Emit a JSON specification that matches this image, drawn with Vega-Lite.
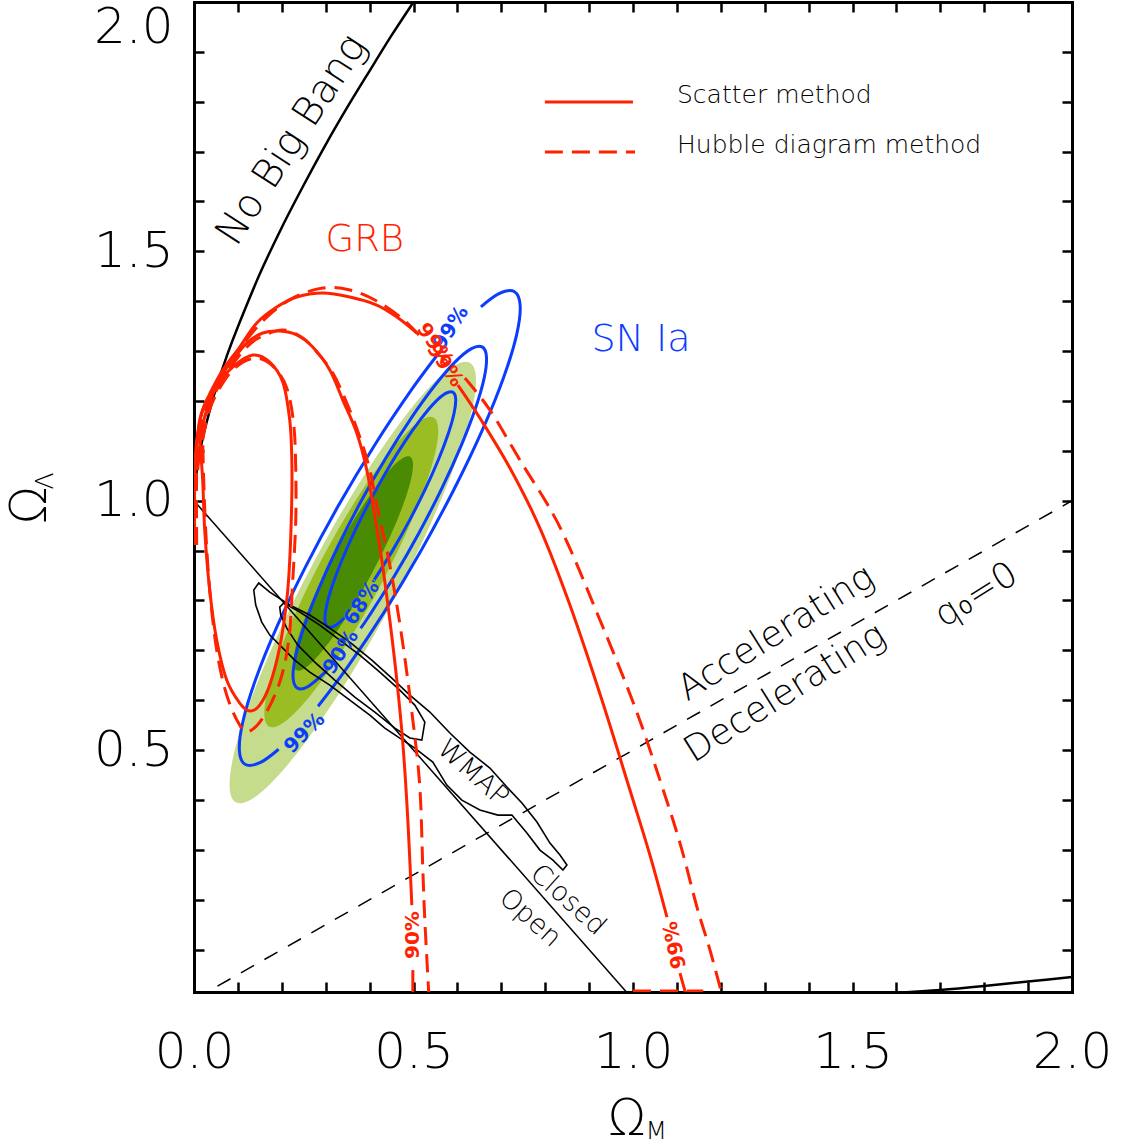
{
"$schema": "https://vega.github.io/schema/vega-lite/v6.json",
"width": 878, "height": 990,
"autosize": {"type": "none"},
"padding": {"left": 194, "top": 2, "right": 50, "bottom": 153},
"background": "white",
"config": {"view": {"stroke": null}, "font": "DejaVu Sans"},
"datasets": {
"curves": [
{"s":"g1","i":0,"x":0.6281,"y":1.2767},{"s":"g1","i":1,"x":0.6419,"y":1.2510},{"s":"g1","i":2,"x":0.6367,"y":1.1968},{"s":"g1","i":3,"x":0.6127,"y":1.1183},{"s":"g1","i":4,"x":0.5715,"y":1.0205},{"s":"g1","i":5,"x":0.5161,"y":0.9100},{"s":"g1","i":6,"x":0.4502,"y":0.7945},{"s":"g1","i":7,"x":0.3783,"y":0.6818},{"s":"g1","i":8,"x":0.3051,"y":0.5797},{"s":"g1","i":9,"x":0.2359,"y":0.4951},{"s":"g1","i":10,"x":0.1753,"y":0.4336},{"s":"g1","i":11,"x":0.1273,"y":0.3996},{"s":"g1","i":12,"x":0.0953,"y":0.3953},{"s":"g1","i":13,"x":0.0815,"y":0.4210},{"s":"g1","i":14,"x":0.0867,"y":0.4752},{"s":"g1","i":15,"x":0.1107,"y":0.5537},{"s":"g1","i":16,"x":0.1519,"y":0.6515},{"s":"g1","i":17,"x":0.2073,"y":0.7620},{"s":"g1","i":18,"x":0.2732,"y":0.8775},{"s":"g1","i":19,"x":0.3451,"y":0.9902},{"s":"g1","i":20,"x":0.4183,"y":1.0923},{"s":"g1","i":21,"x":0.4875,"y":1.1769},{"s":"g1","i":22,"x":0.5481,"y":1.2384},{"s":"g1","i":23,"x":0.5961,"y":1.2724},
{"s":"g2","i":0,"x":0.5456,"y":1.1668},{"s":"g2","i":1,"x":0.5559,"y":1.1484},{"s":"g2","i":2,"x":0.5528,"y":1.1102},{"s":"g2","i":3,"x":0.5363,"y":1.0548},{"s":"g2","i":4,"x":0.5079,"y":0.9858},{"s":"g2","i":5,"x":0.4691,"y":0.9081},{"s":"g2","i":6,"x":0.4228,"y":0.8269},{"s":"g2","i":7,"x":0.3721,"y":0.7477},{"s":"g2","i":8,"x":0.3205,"y":0.6760},{"s":"g2","i":9,"x":0.2715,"y":0.6166},{"s":"g2","i":10,"x":0.2284,"y":0.5736},{"s":"g2","i":11,"x":0.1941,"y":0.5500},{"s":"g2","i":12,"x":0.1710,"y":0.5472},{"s":"g2","i":13,"x":0.1607,"y":0.5656},{"s":"g2","i":14,"x":0.1638,"y":0.6038},{"s":"g2","i":15,"x":0.1803,"y":0.6592},{"s":"g2","i":16,"x":0.2087,"y":0.7282},{"s":"g2","i":17,"x":0.2475,"y":0.8059},{"s":"g2","i":18,"x":0.2938,"y":0.8871},{"s":"g2","i":19,"x":0.3445,"y":0.9663},{"s":"g2","i":20,"x":0.3961,"y":1.0380},{"s":"g2","i":21,"x":0.4451,"y":1.0974},{"s":"g2","i":22,"x":0.4882,"y":1.1404},{"s":"g2","i":23,"x":0.5225,"y":1.1640},
{"s":"g3","i":0,"x":0.4923,"y":1.0883},{"s":"g3","i":1,"x":0.4988,"y":1.0758},{"s":"g3","i":2,"x":0.4960,"y":1.0496},{"s":"g3","i":3,"x":0.4842,"y":1.0115},{"s":"g3","i":4,"x":0.4641,"y":0.9640},{"s":"g3","i":5,"x":0.4371,"y":0.9103},{"s":"g3","i":6,"x":0.4050,"y":0.8542},{"s":"g3","i":7,"x":0.3701,"y":0.7995},{"s":"g3","i":8,"x":0.3345,"y":0.7498},{"s":"g3","i":9,"x":0.3010,"y":0.7085},{"s":"g3","i":10,"x":0.2718,"y":0.6786},{"s":"g3","i":11,"x":0.2486,"y":0.6620},{"s":"g3","i":12,"x":0.2333,"y":0.6599},{"s":"g3","i":13,"x":0.2268,"y":0.6724},{"s":"g3","i":14,"x":0.2296,"y":0.6986},{"s":"g3","i":15,"x":0.2414,"y":0.7367},{"s":"g3","i":16,"x":0.2615,"y":0.7842},{"s":"g3","i":17,"x":0.2885,"y":0.8379},{"s":"g3","i":18,"x":0.3206,"y":0.8940},{"s":"g3","i":19,"x":0.3555,"y":0.9487},{"s":"g3","i":20,"x":0.3911,"y":0.9984},{"s":"g3","i":21,"x":0.4246,"y":1.0397},{"s":"g3","i":22,"x":0.4538,"y":1.0696},{"s":"g3","i":23,"x":0.4770,"y":1.0862},
{"s":"b99a","i":0,"x":0.1928,"y":0.5017},{"s":"b99a","i":1,"x":0.1516,"y":0.4753},{"s":"b99a","i":2,"x":0.1171,"y":0.4711},{"s":"b99a","i":3,"x":0.1034,"y":0.4993},{"s":"b99a","i":4,"x":0.1115,"y":0.5579},{"s":"b99a","i":5,"x":0.1409,"y":0.6429},{"s":"b99a","i":6,"x":0.1894,"y":0.7485},{"s":"b99a","i":7,"x":0.2540,"y":0.8675},{"s":"b99a","i":8,"x":0.3300,"y":0.9918},{"s":"b99a","i":9,"x":0.4124,"y":1.1129},{"s":"b99a","i":10,"x":0.4956,"y":1.2227},{"s":"b99a","i":11,"x":0.5587,"y":1.2972},
{"s":"b99b","i":0,"x":0.6536,"y":1.3889},{"s":"b99b","i":1,"x":0.6948,"y":1.4153},{"s":"b99b","i":2,"x":0.7293,"y":1.4195},{"s":"b99b","i":3,"x":0.7430,"y":1.3913},{"s":"b99b","i":4,"x":0.7349,"y":1.3327},{"s":"b99b","i":5,"x":0.7055,"y":1.2477},{"s":"b99b","i":6,"x":0.6570,"y":1.1421},{"s":"b99b","i":7,"x":0.5924,"y":1.0231},{"s":"b99b","i":8,"x":0.5164,"y":0.8988},{"s":"b99b","i":9,"x":0.4340,"y":0.7777},{"s":"b99b","i":10,"x":0.3508,"y":0.6679},{"s":"b99b","i":11,"x":0.2826,"y":0.5879},
{"s":"b90","i":0,"x":0.3027,"y":0.6595},{"s":"b90","i":1,"x":0.2600,"y":0.6277},{"s":"b90","i":2,"x":0.2357,"y":0.6242},{"s":"b90","i":3,"x":0.2258,"y":0.6441},{"s":"b90","i":4,"x":0.2308,"y":0.6858},{"s":"b90","i":5,"x":0.2506,"y":0.7467},{"s":"b90","i":6,"x":0.2836,"y":0.8225},{"s":"b90","i":7,"x":0.3278,"y":0.9082},{"s":"b90","i":8,"x":0.3799,"y":0.9978},{"s":"b90","i":9,"x":0.4366,"y":1.0852},{"s":"b90","i":10,"x":0.4940,"y":1.1647},{"s":"b90","i":11,"x":0.5480,"y":1.2305},{"s":"b90","i":12,"x":0.5950,"y":1.2784},{"s":"b90","i":13,"x":0.6320,"y":1.3049},{"s":"b90","i":14,"x":0.6563,"y":1.3084},{"s":"b90","i":15,"x":0.6662,"y":1.2885},{"s":"b90","i":16,"x":0.6612,"y":1.2468},{"s":"b90","i":17,"x":0.6414,"y":1.1859},{"s":"b90","i":18,"x":0.6084,"y":1.1101},{"s":"b90","i":19,"x":0.5642,"y":1.0244},{"s":"b90","i":20,"x":0.5121,"y":0.9348},{"s":"b90","i":21,"x":0.4554,"y":0.8474},{"s":"b90","i":22,"x":0.3980,"y":0.7679},{"s":"b90","i":23,"x":0.3795,"y":0.7443},
{"s":"b68","i":0,"x":0.3424,"y":0.7649},{"s":"b68","i":1,"x":0.3213,"y":0.7496},{"s":"b68","i":2,"x":0.3050,"y":0.7470},{"s":"b68","i":3,"x":0.2983,"y":0.7604},{"s":"b68","i":4,"x":0.3019,"y":0.7889},{"s":"b68","i":5,"x":0.3153,"y":0.8305},{"s":"b68","i":6,"x":0.3377,"y":0.8826},{"s":"b68","i":7,"x":0.3676,"y":0.9415},{"s":"b68","i":8,"x":0.4029,"y":1.0031},{"s":"b68","i":9,"x":0.4412,"y":1.0633},{"s":"b68","i":10,"x":0.4799,"y":1.1180},{"s":"b68","i":11,"x":0.5165,"y":1.1635},{"s":"b68","i":12,"x":0.5481,"y":1.1967},{"s":"b68","i":13,"x":0.5731,"y":1.2152},{"s":"b68","i":14,"x":0.5894,"y":1.2178},{"s":"b68","i":15,"x":0.5961,"y":1.2044},{"s":"b68","i":16,"x":0.5925,"y":1.1759},{"s":"b68","i":17,"x":0.5791,"y":1.1343},{"s":"b68","i":18,"x":0.5567,"y":1.0822},{"s":"b68","i":19,"x":0.5268,"y":1.0233},{"s":"b68","i":20,"x":0.4915,"y":0.9617},{"s":"b68","i":21,"x":0.4532,"y":0.9015},{"s":"b68","i":22,"x":0.4145,"y":0.8468},{"s":"b68","i":23,"x":0.4094,"y":0.8401},
{"s":"wo","i":0,"x":0.1361,"y":0.8209},{"s":"wo","i":1,"x":0.1475,"y":0.8350},{"s":"wo","i":2,"x":0.1726,"y":0.8169},{"s":"wo","i":3,"x":0.2181,"y":0.7909},{"s":"wo","i":4,"x":0.2637,"y":0.7708},{"s":"wo","i":5,"x":0.3093,"y":0.7447},{"s":"wo","i":6,"x":0.3549,"y":0.7166},{"s":"wo","i":7,"x":0.4050,"y":0.6806},{"s":"wo","i":8,"x":0.4506,"y":0.6445},{"s":"wo","i":9,"x":0.4917,"y":0.6104},{"s":"wo","i":10,"x":0.5373,"y":0.5763},{"s":"wo","i":11,"x":0.5829,"y":0.5342},{"s":"wo","i":12,"x":0.6284,"y":0.4961},{"s":"wo","i":13,"x":0.6740,"y":0.4640},{"s":"wo","i":14,"x":0.7128,"y":0.4259},{"s":"wo","i":15,"x":0.7470,"y":0.3938},{"s":"wo","i":16,"x":0.7812,"y":0.3557},{"s":"wo","i":17,"x":0.8108,"y":0.3136},{"s":"wo","i":18,"x":0.8336,"y":0.2895},{"s":"wo","i":19,"x":0.8495,"y":0.2695},{"s":"wo","i":20,"x":0.8404,"y":0.2595},{"s":"wo","i":21,"x":0.8176,"y":0.2795},{"s":"wo","i":22,"x":0.7880,"y":0.2996},{"s":"wo","i":23,"x":0.7583,"y":0.3337},{"s":"wo","i":24,"x":0.7241,"y":0.3697},{"s":"wo","i":25,"x":0.6922,"y":0.3697},{"s":"wo","i":26,"x":0.6512,"y":0.3798},{"s":"wo","i":27,"x":0.6101,"y":0.3998},{"s":"wo","i":28,"x":0.5759,"y":0.4299},{"s":"wo","i":29,"x":0.5440,"y":0.4760},{"s":"wo","i":30,"x":0.5030,"y":0.5041},{"s":"wo","i":31,"x":0.4688,"y":0.5242},{"s":"wo","i":32,"x":0.4347,"y":0.5442},{"s":"wo","i":33,"x":0.4005,"y":0.5703},{"s":"wo","i":34,"x":0.3549,"y":0.6003},{"s":"wo","i":35,"x":0.3093,"y":0.6304},{"s":"wo","i":36,"x":0.2637,"y":0.6565},{"s":"wo","i":37,"x":0.2295,"y":0.6806},{"s":"wo","i":38,"x":0.2022,"y":0.7046},{"s":"wo","i":39,"x":0.1726,"y":0.7307},{"s":"wo","i":40,"x":0.1543,"y":0.7567},{"s":"wo","i":41,"x":0.1406,"y":0.7909},
{"s":"wi","i":0,"x":0.1953,"y":0.7868},{"s":"wi","i":1,"x":0.2044,"y":0.7949},{"s":"wi","i":2,"x":0.2409,"y":0.7768},{"s":"wi","i":3,"x":0.2865,"y":0.7507},{"s":"wi","i":4,"x":0.3321,"y":0.7207},{"s":"wi","i":5,"x":0.3777,"y":0.6906},{"s":"wi","i":6,"x":0.4233,"y":0.6565},{"s":"wi","i":7,"x":0.4688,"y":0.6204},{"s":"wi","i":8,"x":0.5030,"y":0.5903},{"s":"wi","i":9,"x":0.5258,"y":0.5562},{"s":"wi","i":10,"x":0.5190,"y":0.5201},{"s":"wi","i":11,"x":0.4917,"y":0.5242},{"s":"wi","i":12,"x":0.4575,"y":0.5442},{"s":"wi","i":13,"x":0.4119,"y":0.5763},{"s":"wi","i":14,"x":0.3663,"y":0.6064},{"s":"wi","i":15,"x":0.3207,"y":0.6405},{"s":"wi","i":16,"x":0.2751,"y":0.6765},{"s":"wi","i":17,"x":0.2364,"y":0.7106},{"s":"wi","i":18,"x":0.2113,"y":0.7447},{"s":"wi","i":19,"x":0.1976,"y":0.7708},
{"s":"flat","i":0,"x":0,"y":1},{"s":"flat","i":1,"x":1,"y":0},
{"s":"q0","i":0,"x":0,"y":0},{"s":"q0","i":1,"x":2,"y":1},
{"s":"nbb1","i":0,"x":0,"y":1.0},{"s":"nbb1","i":1,"x":0.002,"y":1.028},{"s":"nbb1","i":2,"x":0.005,"y":1.051},{"s":"nbb1","i":3,"x":0.01,"y":1.080},{"s":"nbb1","i":4,"x":0.02,"y":1.126},{"s":"nbb1","i":5,"x":0.035,"y":1.178},{"s":"nbb1","i":6,"x":0.05,"y":1.225},{"s":"nbb1","i":7,"x":0.075,"y":1.291},{"s":"nbb1","i":8,"x":0.1,"y":1.349},{"s":"nbb1","i":9,"x":0.15,"y":1.455},{"s":"nbb1","i":10,"x":0.2,"y":1.548},{"s":"nbb1","i":11,"x":0.25,"y":1.633},{"s":"nbb1","i":12,"x":0.3,"y":1.714},{"s":"nbb1","i":13,"x":0.35,"y":1.790},{"s":"nbb1","i":14,"x":0.4,"y":1.862},{"s":"nbb1","i":15,"x":0.45,"y":1.933},{"s":"nbb1","i":16,"x":0.5,"y":2.0},{"s":"nbb1","i":17,"x":0.51,"y":2.013},
{"s":"nbb2","i":0,"x":1.6,"y":0.013},{"s":"nbb2","i":1,"x":1.7,"y":0.019},{"s":"nbb2","i":2,"x":1.8,"y":0.027},{"s":"nbb2","i":3,"x":1.9,"y":0.036},{"s":"nbb2","i":4,"x":2.0,"y":0.045},
{"s":"r99s1","i":0,"x":0.0016,"y":0.9112},{"s":"r99s1","i":1,"x":0.0016,"y":1.0415},{"s":"r99s1","i":2,"x":0.0061,"y":1.1217},{"s":"r99s1","i":3,"x":0.0198,"y":1.1819},{"s":"r99s1","i":4,"x":0.0403,"y":1.2220},{"s":"r99s1","i":5,"x":0.0654,"y":1.2621},{"s":"r99s1","i":6,"x":0.1042,"y":1.3082},{"s":"r99s1","i":7,"x":0.1429,"y":1.3563},{"s":"r99s1","i":8,"x":0.1885,"y":1.3884},{"s":"r99s1","i":9,"x":0.2341,"y":1.4085},{"s":"r99s1","i":10,"x":0.2933,"y":1.4165},{"s":"r99s1","i":11,"x":0.3549,"y":1.4085},{"s":"r99s1","i":12,"x":0.4164,"y":1.3924},{"s":"r99s1","i":13,"x":0.4620,"y":1.3683},{"s":"r99s1","i":14,"x":0.5076,"y":1.3363},
{"s":"r99s2","i":0,"x":0.6011,"y":1.2320},{"s":"r99s2","i":1,"x":0.6512,"y":1.1658},{"s":"r99s2","i":2,"x":0.7196,"y":1.0656},{"s":"r99s2","i":3,"x":0.7879,"y":0.9452},{"s":"r99s2","i":4,"x":0.8563,"y":0.7908},{"s":"r99s2","i":5,"x":0.9292,"y":0.6004},{"s":"r99s2","i":6,"x":0.9930,"y":0.4199},{"s":"r99s2","i":7,"x":1.0386,"y":0.2895},{"s":"r99s2","i":8,"x":1.0773,"y":0.1652},
{"s":"r99s3","i":0,"x":1.1070,"y":0.0529},{"s":"r99s3","i":1,"x":1.1206,"y":0.010},
{"s":"r90s1","i":0,"x":0.0039,"y":1.0615},{"s":"r90s1","i":1,"x":0.0130,"y":1.1618},{"s":"r90s1","i":2,"x":0.0358,"y":1.2119},{"s":"r90s1","i":3,"x":0.0631,"y":1.2520},{"s":"r90s1","i":4,"x":0.0882,"y":1.2821},{"s":"r90s1","i":5,"x":0.1201,"y":1.3162},{"s":"r90s1","i":6,"x":0.1566,"y":1.3363},{"s":"r90s1","i":7,"x":0.1953,"y":1.3403},{"s":"r90s1","i":8,"x":0.2341,"y":1.3323},{"s":"r90s1","i":9,"x":0.2705,"y":1.3082},{"s":"r90s1","i":10,"x":0.3093,"y":1.2621},{"s":"r90s1","i":11,"x":0.3389,"y":1.2019},{"s":"r90s1","i":12,"x":0.3708,"y":1.1357},{"s":"r90s1","i":13,"x":0.3936,"y":1.0615},{"s":"r90s1","i":14,"x":0.4096,"y":0.9813},{"s":"r90s1","i":15,"x":0.4278,"y":0.8811},{"s":"r90s1","i":16,"x":0.4460,"y":0.7608},{"s":"r90s1","i":17,"x":0.4620,"y":0.6405},{"s":"r90s1","i":18,"x":0.4757,"y":0.5141},{"s":"r90s1","i":19,"x":0.4871,"y":0.3597},{"s":"r90s1","i":20,"x":0.4962,"y":0.1893},
{"s":"r90s2","i":0,"x":0.4985,"y":0.0589},{"s":"r90s2","i":1,"x":0.4985,"y":0.010},
{"s":"rins","i":0,"x":0.0130,"y":1.1217},{"s":"rins","i":1,"x":0.0289,"y":1.1819},{"s":"rins","i":2,"x":0.0540,"y":1.2320},{"s":"rins","i":3,"x":0.0882,"y":1.2681},{"s":"rins","i":4,"x":0.1338,"y":1.2921},{"s":"rins","i":5,"x":0.1725,"y":1.2781},{"s":"rins","i":6,"x":0.2022,"y":1.2380},{"s":"rins","i":7,"x":0.2181,"y":1.1618},{"s":"rins","i":8,"x":0.2227,"y":1.0876},{"s":"rins","i":9,"x":0.2227,"y":1.0014},{"s":"rins","i":10,"x":0.2181,"y":0.8811},{"s":"rins","i":11,"x":0.2113,"y":0.8009},{"s":"rins","i":12,"x":0.1953,"y":0.7066},{"s":"rins","i":13,"x":0.1725,"y":0.6304},{"s":"rins","i":14,"x":0.1497,"y":0.5903},{"s":"rins","i":15,"x":0.1270,"y":0.5783},{"s":"rins","i":16,"x":0.1042,"y":0.5943},{"s":"rins","i":17,"x":0.0745,"y":0.6405},{"s":"rins","i":18,"x":0.0517,"y":0.7207},{"s":"rins","i":19,"x":0.0358,"y":0.8209},{"s":"rins","i":20,"x":0.0244,"y":0.9412},{"s":"rins","i":21,"x":0.0198,"y":1.0415},{"s":"rins","i":22,"x":0.0130,"y":1.1217},
{"s":"legs","i":0,"x":0.7993,"y":1.7995},{"s":"legs","i":1,"x":0.9999,"y":1.7995},
{"s":"r99d1","i":0,"x":0.0061,"y":0.9112},{"s":"r99d1","i":1,"x":0.0061,"y":1.0615},{"s":"r99d1","i":2,"x":0.0130,"y":1.1418},{"s":"r99d1","i":3,"x":0.0289,"y":1.1919},{"s":"r99d1","i":4,"x":0.0517,"y":1.2320},{"s":"r99d1","i":5,"x":0.0813,"y":1.2721},{"s":"r99d1","i":6,"x":0.1156,"y":1.3182},{"s":"r99d1","i":7,"x":0.1657,"y":1.3683},{"s":"r99d1","i":8,"x":0.2250,"y":1.4064},{"s":"r99d1","i":9,"x":0.2933,"y":1.4265},{"s":"r99d1","i":10,"x":0.3549,"y":1.4225},{"s":"r99d1","i":11,"x":0.4164,"y":1.4004},{"s":"r99d1","i":12,"x":0.4757,"y":1.3643},{"s":"r99d1","i":13,"x":0.5144,"y":1.3302},
{"s":"r99d2","i":0,"x":0.6170,"y":1.2460},{"s":"r99d2","i":1,"x":0.6740,"y":1.1819},{"s":"r99d2","i":2,"x":0.7423,"y":1.0816},{"s":"r99d2","i":3,"x":0.8335,"y":0.9472},{"s":"r99d2","i":4,"x":0.9247,"y":0.7608},{"s":"r99d2","i":5,"x":1.0044,"y":0.5863},{"s":"r99d2","i":6,"x":1.0614,"y":0.4399},{"s":"r99d2","i":7,"x":1.1070,"y":0.3136},{"s":"r99d2","i":8,"x":1.1457,"y":0.1853},{"s":"r99d2","i":9,"x":1.1754,"y":0.0991},{"s":"r99d2","i":10,"x":1.2027,"y":0.010},
{"s":"r90d","i":0,"x":0.0084,"y":1.0615},{"s":"r90d","i":1,"x":0.0198,"y":1.1518},{"s":"r90d","i":2,"x":0.0426,"y":1.2059},{"s":"r90d","i":3,"x":0.0700,"y":1.2500},{"s":"r90d","i":4,"x":0.1042,"y":1.2921},{"s":"r90d","i":5,"x":0.1429,"y":1.3242},{"s":"r90d","i":6,"x":0.2022,"y":1.3423},{"s":"r90d","i":7,"x":0.2478,"y":1.3262},{"s":"r90d","i":8,"x":0.2797,"y":1.2982},{"s":"r90d","i":9,"x":0.3162,"y":1.2560},{"s":"r90d","i":10,"x":0.3481,"y":1.1959},{"s":"r90d","i":11,"x":0.3777,"y":1.1277},{"s":"r90d","i":12,"x":0.4005,"y":1.0615},{"s":"r90d","i":13,"x":0.4187,"y":0.9813},{"s":"r90d","i":14,"x":0.4460,"y":0.8711},{"s":"r90d","i":15,"x":0.4734,"y":0.7267},{"s":"r90d","i":16,"x":0.4985,"y":0.5602},{"s":"r90d","i":17,"x":0.5144,"y":0.4259},{"s":"r90d","i":18,"x":0.5213,"y":0.2595},{"s":"r90d","i":19,"x":0.5258,"y":0.1592},{"s":"r90d","i":20,"x":0.5349,"y":0.010},
{"s":"rind","i":0,"x":0.0198,"y":1.1217},{"s":"rind","i":1,"x":0.0335,"y":1.1779},{"s":"rind","i":2,"x":0.0586,"y":1.2260},{"s":"rind","i":3,"x":0.0928,"y":1.2661},{"s":"rind","i":4,"x":0.1384,"y":1.2861},{"s":"rind","i":5,"x":0.1794,"y":1.2701},{"s":"rind","i":6,"x":0.2113,"y":1.2260},{"s":"rind","i":7,"x":0.2273,"y":1.1518},{"s":"rind","i":8,"x":0.2318,"y":1.0615},{"s":"rind","i":9,"x":0.2318,"y":0.9613},{"s":"rind","i":10,"x":0.2250,"y":0.8410},{"s":"rind","i":11,"x":0.2159,"y":0.7207},{"s":"rind","i":12,"x":0.1953,"y":0.6364},{"s":"rind","i":13,"x":0.1611,"y":0.5703},{"s":"rind","i":14,"x":0.1270,"y":0.5382},{"s":"rind","i":15,"x":0.1042,"y":0.5502},{"s":"rind","i":16,"x":0.0745,"y":0.6104},{"s":"rind","i":17,"x":0.0517,"y":0.7006},{"s":"rind","i":18,"x":0.0358,"y":0.8209},{"s":"rind","i":19,"x":0.0266,"y":0.9412},{"s":"rind","i":20,"x":0.0221,"y":1.0415},{"s":"rind","i":21,"x":0.0198,"y":1.1217},
{"s":"rbotd","i":0,"x":1.0,"y":0.017},{"s":"rbotd","i":1,"x":1.16,"y":0.017},
{"s":"legd","i":0,"x":0.7993,"y":1.6992},{"s":"legd","i":1,"x":1.0045,"y":1.6992}
],
"notes": [
{"id":"nbb","t":"No Big Bang","x":0.2227,"y":1.7233},
{"id":"grb","t":"GRB","x":0.3890,"y":1.5227},
{"id":"sn","t":"SN Ia","x":1.0181,"y":1.3222},
{"id":"acc","t":"Accelerating","x":1.3258,"y":0.7347},
{"id":"dec","t":"Decelerating","x":1.3463,"y":0.6144},
{"id":"q0","t":"q₀=0","x":1.7816,"y":0.8109},
{"id":"wmap","t":"WMAP","x":0.6352,"y":0.4540},
{"id":"closed","t":"Closed","x":0.8517,"y":0.1993},
{"id":"open","t":"Open","x":0.7652,"y":0.1632},
{"id":"leg1","t":"Scatter method","x":1.1002,"y":1.8135},
{"id":"leg2","t":"Hubble diagram method","x":1.1002,"y":1.7132},
{"id":"b68","t":"68%","x":0.3825,"y":0.7949},
{"id":"b90","t":"90%","x":0.3347,"y":0.6966},
{"id":"b99l","t":"99%","x":0.2522,"y":0.5342},
{"id":"b99u","t":"99%","x":0.5851,"y":1.3463},
{"id":"r99a","t":"99%","x":0.5486,"y":1.3122},
{"id":"r99b","t":"99%","x":0.5714,"y":1.2721},
{"id":"r90bot","t":"90%","x":0.4985,"y":0.1291},
{"id":"r99bot","t":"99%","x":1.0963,"y":0.1091},
{"id":"xt","t":"Ω","x":0.9862,"y":-0.2398},
{"id":"xs","t":"M","x":1.0530,"y":-0.2639},
{"id":"yt","t":"Ω","x":-0.3745,"y":0.9914},
{"id":"ys","t":"Λ","x":-0.3403,"y":1.0395}
]
},
"encoding": {
"x": {"field": "x", "type": "quantitative", "scale": {"domain": [0, 2], "nice": false, "zero": false}, "axis": null},
"y": {"field": "y", "type": "quantitative", "scale": {"domain": [0.015, 2], "nice": false, "zero": false}, "axis": null}
},
"layer": [
{"data": {"name": "curves"}, "transform": [{"filter": {"field": "s", "equal": "g1"}}],
 "mark": {"type": "line", "interpolate": "cardinal-closed", "fill": "#c5dc8d", "strokeWidth": 0, "clip": true},
 "encoding": {
  "order": {"field": "i", "type": "quantitative"},
  "x": {"field": "x", "type": "quantitative", "scale": {"domain": [0, 2], "nice": false, "zero": false},
   "axis": {"orient": "bottom", "values": [0,0.1,0.2,0.3,0.4,0.5,0.6,0.7,0.8,0.9,1,1.1,1.2,1.3,1.4,1.5,1.6,1.7,1.8,1.9,2], "title": null, "grid": false,
    "domainColor": "black", "domainWidth": 3, "domainCap": "square", "ticks": true, "tickColor": "black", "tickWidth": 2.5, "tickSize": -10,
    "labelFont": "DejaVu Sans", "labelFontSize": 50, "labelFontWeight": 300, "labelColor": "black", "labelPadding": 45, "labelOverlap": false, "labelFlush": false,
    "labelExpr": "abs(datum.value*2-round(datum.value*2))<0.001 ? format(datum.value,'.1f') : ''",
    "encode": {"ticks": {"update": {"y2": {"signal": "abs(datum.value*2-round(datum.value*2))<0.001 ? -20 : -10"}}}}}},
  "y": {"field": "y", "type": "quantitative", "scale": {"domain": [0.015, 2], "nice": false, "zero": false},
   "axis": {"orient": "left", "values": [0.1,0.2,0.3,0.4,0.5,0.6,0.7,0.8,0.9,1,1.1,1.2,1.3,1.4,1.5,1.6,1.7,1.8,1.9,2], "title": null, "grid": false,
    "domainColor": "black", "domainWidth": 3, "domainCap": "square", "ticks": true, "tickColor": "black", "tickWidth": 2.5, "tickSize": -10,
    "labelFont": "DejaVu Sans", "labelFontSize": 50, "labelFontWeight": 300, "labelColor": "black", "labelPadding": 31, "labelOverlap": false, "labelFlush": true,
    "labelExpr": "abs(datum.value*2-round(datum.value*2))<0.001 ? format(datum.value,'.1f') : ''",
    "encode": {"ticks": {"update": {"x2": {"signal": "abs(datum.value*2-round(datum.value*2))<0.001 ? 20 : 10"}}}}}}
 }},
{"data": {"name": "curves"}, "transform": [{"filter": {"field": "s", "equal": "g2"}}],
 "mark": {"type": "line", "interpolate": "cardinal-closed", "fill": "#99bd22", "strokeWidth": 0, "clip": true},
 "encoding": {
  "order": {"field": "i", "type": "quantitative"},
  "x": {"field": "x", "type": "quantitative", "scale": {"domain": [0, 2], "nice": false, "zero": false},
   "axis": {"orient": "top", "values": [0,0.1,0.2,0.3,0.4,0.5,0.6,0.7,0.8,0.9,1,1.1,1.2,1.3,1.4,1.5,1.6,1.7,1.8,1.9,2], "title": null, "grid": false, "labels": false,
    "domainColor": "black", "domainWidth": 3, "domainCap": "square", "ticks": true, "tickColor": "black", "tickWidth": 2.5, "tickSize": -10,
    "encode": {"ticks": {"update": {"y2": {"signal": "abs(datum.value*2-round(datum.value*2))<0.001 ? 20 : 10"}}}}}},
  "y": {"field": "y", "type": "quantitative", "scale": {"domain": [0.015, 2], "nice": false, "zero": false},
   "axis": {"orient": "right", "values": [0.1,0.2,0.3,0.4,0.5,0.6,0.7,0.8,0.9,1,1.1,1.2,1.3,1.4,1.5,1.6,1.7,1.8,1.9,2], "title": null, "grid": false, "labels": false,
    "domainColor": "black", "domainWidth": 3, "domainCap": "square", "ticks": true, "tickColor": "black", "tickWidth": 2.5, "tickSize": -10,
    "encode": {"ticks": {"update": {"x2": {"signal": "abs(datum.value*2-round(datum.value*2))<0.001 ? -20 : -10"}}}}}}
 }},
{"data": {"name": "curves"}, "transform": [{"filter": {"field": "s", "equal": "g3"}}],
 "mark": {"type": "line", "interpolate": "cardinal-closed", "fill": "#4a8b04", "strokeWidth": 0, "clip": true},
 "encoding": {"order": {"field": "i", "type": "quantitative"}}},
{"data": {"name": "curves"}, "transform": [{"filter": {"field": "s", "oneOf": ["b99a", "b99b", "b90", "b68"]}}],
 "mark": {"type": "line", "interpolate": "cardinal", "stroke": "#0b3dff", "strokeWidth": 3, "clip": true},
 "encoding": {"order": {"field": "i", "type": "quantitative"}, "detail": {"field": "s"}}},
{"data": {"name": "curves"}, "transform": [{"filter": {"field": "s", "oneOf": ["wo", "wi"]}}],
 "mark": {"type": "line", "interpolate": "linear-closed", "stroke": "black", "strokeWidth": 1.6, "clip": true},
 "encoding": {"order": {"field": "i", "type": "quantitative"}, "detail": {"field": "s"}}},
{"data": {"name": "curves"}, "transform": [{"filter": {"field": "s", "oneOf": ["flat"]}}],
 "mark": {"type": "line", "stroke": "black", "strokeWidth": 1.5, "clip": true},
 "encoding": {"order": {"field": "i", "type": "quantitative"}, "detail": {"field": "s"}}},
{"data": {"name": "curves"}, "transform": [{"filter": {"field": "s", "oneOf": ["nbb1", "nbb2"]}}],
 "mark": {"type": "line", "interpolate": "cardinal", "stroke": "black", "strokeWidth": 2.5, "clip": true},
 "encoding": {"order": {"field": "i", "type": "quantitative"}, "detail": {"field": "s"}}},
{"data": {"name": "curves"}, "transform": [{"filter": {"field": "s", "equal": "q0"}}],
 "mark": {"type": "line", "stroke": "black", "strokeWidth": 1.5, "strokeDash": [15, 12], "clip": true},
 "encoding": {"order": {"field": "i", "type": "quantitative"}}},
{"data": {"name": "curves"}, "transform": [{"filter": {"field": "s", "oneOf": ["r99s1", "r99s2", "r99s3", "r90s1", "r90s2", "rins", "legs"]}}],
 "mark": {"type": "line", "interpolate": "cardinal", "stroke": "#ff2200", "strokeWidth": 3, "clip": true},
 "encoding": {"order": {"field": "i", "type": "quantitative"}, "detail": {"field": "s"}}},
{"data": {"name": "curves"}, "transform": [{"filter": {"field": "s", "oneOf": ["r99d1", "r99d2", "r90d", "rind", "rbotd", "legd"]}}],
 "mark": {"type": "line", "interpolate": "cardinal", "stroke": "#ff2200", "strokeWidth": 3, "strokeDash": [18, 9], "clip": true},
 "encoding": {"order": {"field": "i", "type": "quantitative"}, "detail": {"field": "s"}}},
{"data": {"name": "notes"}, "transform": [{"filter": {"field": "id", "equal": "nbb"}}],
 "mark": {"type": "text", "font": "DejaVu Sans", "fontSize": 40, "fontWeight": 300, "angle": -57, "color": "black", "align": "center", "baseline": "middle"},
 "encoding": {"text": {"field": "t"}}},
{"data": {"name": "notes"}, "transform": [{"filter": {"field": "id", "equal": "grb"}}],
 "mark": {"type": "text", "font": "DejaVu Sans", "fontSize": 37, "fontWeight": 300, "color": "#ff2200", "align": "center", "baseline": "middle"},
 "encoding": {"text": {"field": "t"}}},
{"data": {"name": "notes"}, "transform": [{"filter": {"field": "id", "equal": "sn"}}],
 "mark": {"type": "text", "font": "DejaVu Sans", "fontSize": 38, "fontWeight": 300, "color": "#0b3dff", "align": "center", "baseline": "middle"},
 "encoding": {"text": {"field": "t"}}},
{"data": {"name": "notes"}, "transform": [{"filter": {"field": "id", "oneOf": ["acc", "dec", "q0"]}}],
 "mark": {"type": "text", "font": "DejaVu Sans", "fontSize": 36, "fontWeight": 300, "angle": -32, "color": "black", "align": "center", "baseline": "middle"},
 "encoding": {"text": {"field": "t"}}},
{"data": {"name": "notes"}, "transform": [{"filter": {"field": "id", "oneOf": ["wmap", "closed", "open"]}}],
 "mark": {"type": "text", "font": "DejaVu Sans", "fontSize": 27, "fontWeight": 300, "angle": 42, "color": "black", "align": "center", "baseline": "middle"},
 "encoding": {"text": {"field": "t"}}},
{"data": {"name": "notes"}, "transform": [{"filter": {"field": "id", "oneOf": ["leg1", "leg2"]}}],
 "mark": {"type": "text", "font": "DejaVu Sans", "fontSize": 25, "fontWeight": 300, "color": "black", "align": "left", "baseline": "middle"},
 "encoding": {"text": {"field": "t"}}},
{"data": {"name": "notes"}, "transform": [{"filter": {"field": "id", "oneOf": ["b68", "b90", "b99u"]}}],
 "mark": {"type": "text", "font": "DejaVu Sans", "fontSize": 20, "fontWeight": "bold", "angle": -57, "color": "#0b3dff", "align": "center", "baseline": "middle"},
 "encoding": {"text": {"field": "t"}}},
{"data": {"name": "notes"}, "transform": [{"filter": {"field": "id", "equal": "b99l"}}],
 "mark": {"type": "text", "font": "DejaVu Sans", "fontSize": 20, "fontWeight": "bold", "angle": -45, "color": "#0b3dff", "align": "center", "baseline": "middle"},
 "encoding": {"text": {"field": "t"}}},
{"data": {"name": "notes"}, "transform": [{"filter": {"field": "id", "oneOf": ["r99a", "r99b"]}}],
 "mark": {"type": "text", "font": "DejaVu Sans", "fontSize": 20, "fontWeight": "bold", "angle": 55, "color": "#ff2200", "align": "center", "baseline": "middle"},
 "encoding": {"text": {"field": "t"}}},
{"data": {"name": "notes"}, "transform": [{"filter": {"field": "id", "equal": "r90bot"}}],
 "mark": {"type": "text", "font": "DejaVu Sans", "fontSize": 20, "fontWeight": "bold", "angle": -90, "color": "#ff2200", "align": "center", "baseline": "middle"},
 "encoding": {"text": {"field": "t"}}},
{"data": {"name": "notes"}, "transform": [{"filter": {"field": "id", "equal": "r99bot"}}],
 "mark": {"type": "text", "font": "DejaVu Sans", "fontSize": 20, "fontWeight": "bold", "angle": -102, "color": "#ff2200", "align": "center", "baseline": "middle"},
 "encoding": {"text": {"field": "t"}}},
{"data": {"name": "notes"}, "transform": [{"filter": {"field": "id", "equal": "xt"}}],
 "mark": {"type": "text", "font": "DejaVu Sans", "fontSize": 50, "fontWeight": 300, "color": "black", "align": "center", "baseline": "middle"},
 "encoding": {"text": {"field": "t"}}},
{"data": {"name": "notes"}, "transform": [{"filter": {"field": "id", "equal": "xs"}}],
 "mark": {"type": "text", "font": "DejaVu Sans", "fontSize": 25, "fontWeight": 300, "color": "black", "align": "center", "baseline": "middle"},
 "encoding": {"text": {"field": "t"}}},
{"data": {"name": "notes"}, "transform": [{"filter": {"field": "id", "equal": "yt"}}],
 "mark": {"type": "text", "font": "DejaVu Sans", "fontSize": 50, "fontWeight": 300, "angle": -90, "color": "black", "align": "center", "baseline": "middle"},
 "encoding": {"text": {"field": "t"}}},
{"data": {"name": "notes"}, "transform": [{"filter": {"field": "id", "equal": "ys"}}],
 "mark": {"type": "text", "font": "DejaVu Sans", "fontSize": 25, "fontWeight": 300, "angle": -90, "color": "black", "align": "center", "baseline": "middle"},
 "encoding": {"text": {"field": "t"}}}
],
"resolve": {"axis": {"x": "independent", "y": "independent"}}
}
